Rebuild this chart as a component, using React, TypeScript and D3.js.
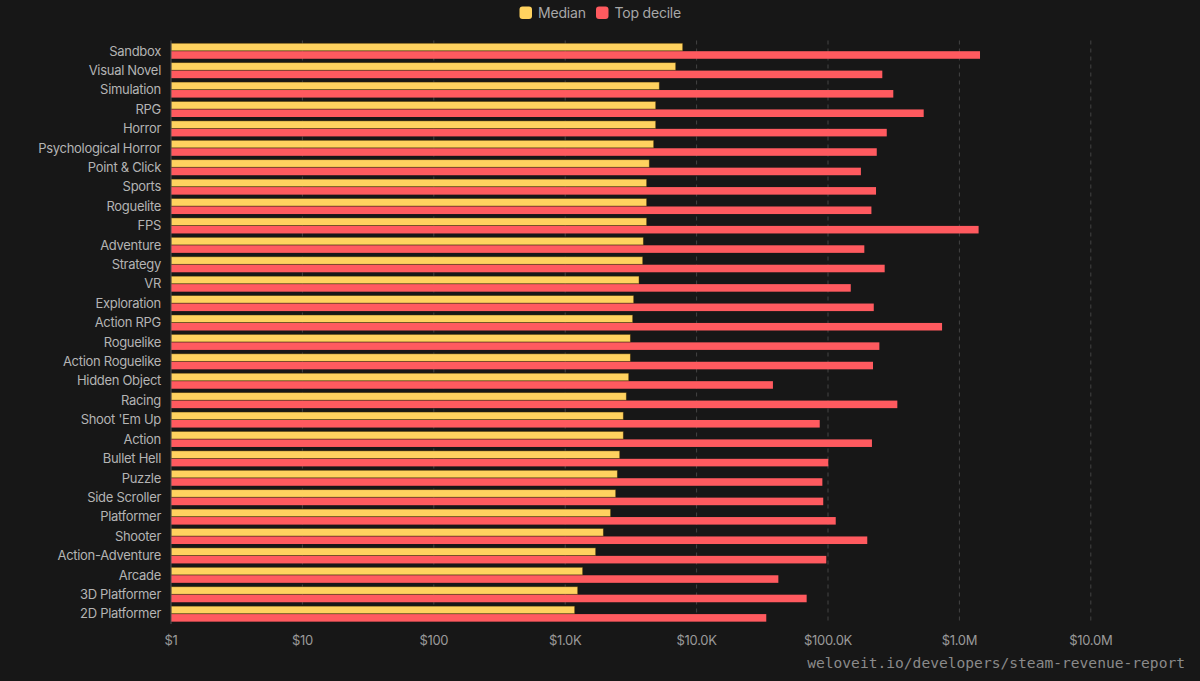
import React from "react";
import * as d3 from "d3";

const categories = [
  "Sandbox", "Visual Novel", "Simulation", "RPG", "Horror", "Psychological Horror",
  "Point & Click", "Sports", "Roguelite", "FPS", "Adventure", "Strategy", "VR",
  "Exploration", "Action RPG", "Roguelike", "Action Roguelike", "Hidden Object",
  "Racing", "Shoot 'Em Up", "Action", "Bullet Hell", "Puzzle", "Side Scroller",
  "Platformer", "Shooter", "Action-Adventure", "Arcade", "3D Platformer", "2D Platformer",
];

const median = [
  7840, 6935, 5200, 4885, 4885, 4714, 4365, 4168, 4168, 4168, 3933, 3890, 3646,
  3321, 3263, 3133, 3133, 3044, 2918, 2768, 2768, 2600, 2494, 2423, 2216, 1951,
  1706, 1358, 1245, 1181,
];

const topDecile = [
  1435000, 259000, 314000, 535000, 280000, 235000, 178000, 232000, 214000, 1400000,
  189000, 270000, 149000, 223000, 738000, 246000, 220000, 38100, 337000, 86500,
  216000, 100500, 90600, 92000, 114500, 199000, 97000, 41900, 68800, 33900,
];

const seriesNames = ["Median", "Top decile"];
const seriesColors = ["#FFD25F", "#FF5A5F"];
const tickValues = [1, 10, 100, 1e3, 1e4, 1e5, 1e6, 1e7];
const sourceText = "weloveit.io/developers/steam-revenue-report";

const W = 1200;
const H = 681;

function fmt(v: number): string {
  if (v >= 1e6) return "$" + (v / 1e6).toFixed(1) + "M";
  if (v >= 1e3) return "$" + (v / 1e3).toFixed(1) + "K";
  return "$" + v;
}

export default function App() {
  const x = d3.scaleLog().domain([1, 1e7]).range([171, 1090.8]);
  const y = d3.scaleBand<string>().domain(categories).range([41.3, 623.6]).paddingInner(0.2).paddingOuter(0.1);
  const sub = d3.scaleBand<string>().domain(seriesNames).range([0, y.bandwidth()]).paddingInner(0.05);
  const values = [median, topDecile];
  const font = "Inter, 'Noto Sans', sans-serif";

  return (
    <svg width={W} height={H} style={{ position: "absolute", left: 0, top: 0, display: "block", background: "#171717" }}>
      <rect x={0} y={0} width={W} height={H} fill="#171717" />
      {/* legend */}
      <g fontFamily={font} fontSize={14} fill="#a8a8a8">
        <rect x={519.5} y={6.5} width={12.5} height={12.5} rx={3} fill={seriesColors[0]} />
        <text x={538} y={18} letterSpacing={-0.2}>{seriesNames[0]}</text>
        <rect x={596} y={6.5} width={12.5} height={12.5} rx={3} fill={seriesColors[1]} />
        <text x={614.5} y={18} letterSpacing={-0.2}>{seriesNames[1]}</text>
      </g>
      {/* gridlines */}
      {tickValues.slice(1).map((t) => (
        <line key={t} x1={x(t)} x2={x(t)} y1={40.5} y2={624} stroke="#444" strokeWidth={1} strokeDasharray="4,4" />
      ))}
      {/* bars */}
      {categories.map((c, i) => (
        <g key={c} transform={`translate(0,${y(c)})`}>
          {seriesNames.map((s, j) => (
            <rect
              key={s}
              x={x(1)}
              y={sub(s)}
              width={x(values[j][i]) - x(1)}
              height={sub.bandwidth()}
              fill={seriesColors[j]}
              stroke={j === 0 ? "rgba(60,40,0,0.55)" : "none"}
              strokeWidth={0.8}
            />
          ))}
        </g>
      ))}
      {/* y axis line */}
      <line x1={x(1)} x2={x(1)} y1={40.5} y2={624} stroke="#555" strokeWidth={1} />
      {/* category labels */}
      <g fontFamily={font} fontSize={13} fill="#b4b4b4" textAnchor="end">
        {categories.map((c) => (
          <text key={c} x={161} y={(y(c) as number) + y.bandwidth() / 2 + 4.5} letterSpacing={-0.3}>{c}</text>
        ))}
      </g>
      {/* x tick labels */}
      <g fontFamily={font} fontSize={13} fill="#9a9a9a" textAnchor="middle">
        {tickValues.map((t) => (
          <text key={t} x={x(t)} y={645} letterSpacing={-0.3}>{fmt(t)}</text>
        ))}
      </g>
      <text x={1185} y={668} textAnchor="end" fontFamily="'DejaVu Sans Mono', monospace" fontSize={14.6} fill="#8a8a8a">{sourceText}</text>
    </svg>
  );
}
